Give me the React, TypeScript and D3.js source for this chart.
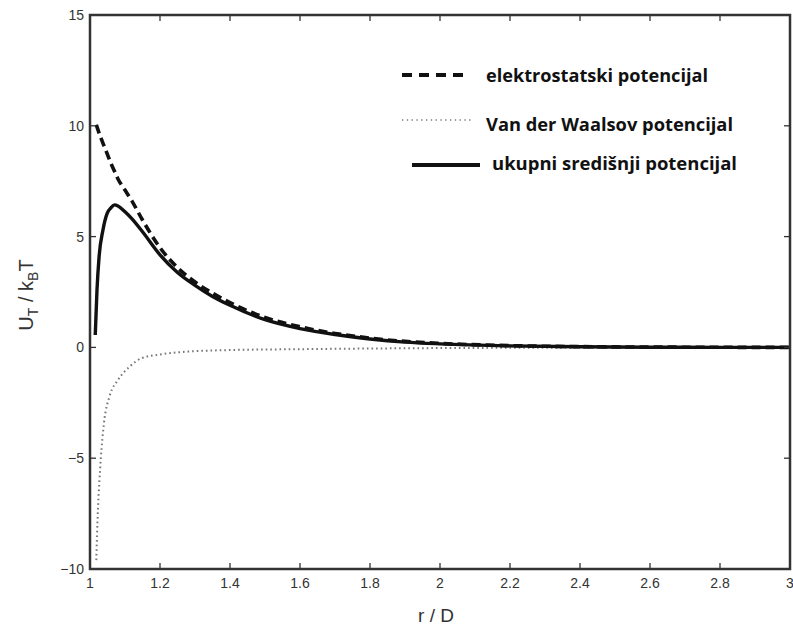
import React from 'react';
import * as d3 from 'd3';

// Electrostatic potential (dashed)
const rElec = [1.018, 1.02, 1.03, 1.04, 1.05, 1.06, 1.07, 1.08, 1.1, 1.12, 1.15, 1.2, 1.25, 1.3, 1.35, 1.4, 1.5, 1.6, 1.7, 1.8, 1.9, 2.0, 2.2, 2.4, 2.6, 2.8, 3.0];
const uElec = [10.05, 9.95, 9.5, 9.1, 8.7, 8.3, 7.95, 7.6, 7.1, 6.6, 5.75, 4.5, 3.6, 2.95, 2.45, 2.02, 1.35, 0.93, 0.63, 0.42, 0.27, 0.18, 0.08, 0.035, 0.015, 0.005, 0.0];

// Van der Waals potential (dotted)
const rVdw = [1.018, 1.02, 1.023, 1.027, 1.031, 1.04, 1.056, 1.08, 1.113, 1.147, 1.2, 1.28, 1.4, 1.6, 1.8, 2.0, 2.5, 3.0];
const uVdw = [-9.6, -8.5, -7.2, -6.0, -5.0, -3.4, -2.2, -1.47, -0.87, -0.49, -0.32, -0.19, -0.12, -0.08, -0.05, -0.03, -0.01, 0.0];

// Total potential (solid)
const rTotal = [1.015, 1.02, 1.026, 1.037, 1.049, 1.06, 1.07, 1.08, 1.1, 1.12, 1.15, 1.2, 1.25, 1.3, 1.35, 1.4, 1.5, 1.6, 1.7, 1.8, 1.9, 2.0, 2.2, 2.4, 2.6, 2.8, 3.0];
const uTotal = [0.56, 2.6, 4.1, 5.3, 6.05, 6.3, 6.43, 6.38, 6.12, 5.8, 5.22, 4.18, 3.38, 2.8, 2.3, 1.9, 1.25, 0.85, 0.58, 0.38, 0.24, 0.16, 0.07, 0.03, 0.01, 0.0, 0.0];

const xTicks = [1, 1.2, 1.4, 1.6, 1.8, 2, 2.2, 2.4, 2.6, 2.8, 3];
const yTicks = [-10, -5, 0, 5, 10, 15];
const legendLabels = ['elektrostatski potencijal', 'Van der Waalsov potencijal', 'ukupni središnji potencijal'];

export default function App() {
  const W = 793, H = 627;
  const x = d3.scaleLinear().domain([1, 3]).range([90, 790]);
  const y = d3.scaleLinear().domain([-10, 15]).range([569, 15]);
  const line = d3.line<[number, number]>().x(d => x(d[0])).y(d => y(d[1])).curve(d3.curveMonotoneX);
  const zip = (a: number[], b: number[]) => a.map((v, i) => [v, b[i]] as [number, number]);
  const fmt = (v: number) => (v < 0 ? '\u2212' + String(-v) : String(v));
  const tickFont = '"Liberation Sans", Arial, sans-serif';
  const legFont = '"Open Sans", sans-serif';

  return (
    <svg width={W} height={H} style={{ position: 'absolute', left: 0, top: 0, background: '#fff' }}>
      <rect x={0} y={0} width={W} height={H} fill="#fff" />
      {/* curves */}
      <path d={line(zip(rVdw, uVdw)) || ''} fill="none" stroke="#777" strokeWidth={2} strokeDasharray="1.6,3" />
      <path d={line(zip(rElec, uElec)) || ''} fill="none" stroke="#111" strokeWidth={3.6} strokeDasharray="9,5" />
      <path d={line(zip(rTotal, uTotal)) || ''} fill="none" stroke="#111" strokeWidth={3.4} />

      {/* frame */}
      <rect x={x(1)} y={y(15)} width={x(3) - x(1)} height={y(-10) - y(15)} fill="none" stroke="#333" strokeWidth={2.5} />
      {xTicks.map(t => (
        <g key={'x' + t}>
          <line x1={x(t)} x2={x(t)} y1={y(-10)} y2={y(-10) - 6} stroke="#333" strokeWidth={1.3} />
          <line x1={x(t)} x2={x(t)} y1={y(15)} y2={y(15) + 6} stroke="#333" strokeWidth={1.3} />
          <text x={x(t)} y={588} textAnchor="middle" fontFamily={tickFont} fontSize={14} fill="#333">{fmt(t)}</text>
        </g>
      ))}
      {yTicks.map(t => (
        <g key={'y' + t}>
          <line x1={x(1)} x2={x(1) + 6} y1={y(t)} y2={y(t)} stroke="#333" strokeWidth={1.3} />
          <line x1={x(3)} x2={x(3) - 6} y1={y(t)} y2={y(t)} stroke="#333" strokeWidth={1.3} />
          <text x={84} y={y(t)} dy="0.35em" textAnchor="end" fontFamily={tickFont} fontSize={14} fill="#333">{fmt(t)}</text>
        </g>
      ))}

      {/* axis labels */}
      <text x={436} y={622} textAnchor="middle" fontFamily={tickFont} fontSize={19} fill="#333">r / D</text>
      <text transform="translate(33,295) rotate(-90)" textAnchor="middle" fontFamily={tickFont} fontSize={20} fill="#333">
        U<tspan fontSize={14} dy={5}>T</tspan><tspan dy={-5}> / k</tspan><tspan fontSize={14} dy={5}>B</tspan><tspan dy={-5}>T</tspan>
      </text>

      {/* legend */}
      <line x1={402} x2={470} y1={75} y2={75} stroke="#111" strokeWidth={4} strokeDasharray="10,7" />
      <text x={486} y={82} fontFamily={legFont} fontWeight={700} fontSize={17} textLength={222} lengthAdjust="spacingAndGlyphs" fill="#111">{legendLabels[0]}</text>
      <line x1={402} x2={472} y1={120} y2={120} stroke="#999" strokeWidth={2} strokeDasharray="1.3,3.5" />
      <text x={486} y={131} fontFamily={legFont} fontWeight={700} fontSize={17} textLength={247} lengthAdjust="spacingAndGlyphs" fill="#111">{legendLabels[1]}</text>
      <line x1={412} x2={480} y1={165} y2={165} stroke="#111" strokeWidth={4} />
      <text x={492} y={170} fontFamily={legFont} fontWeight={700} fontSize={17} textLength={245} lengthAdjust="spacingAndGlyphs" fill="#111">{legendLabels[2]}</text>
    </svg>
  );
}
